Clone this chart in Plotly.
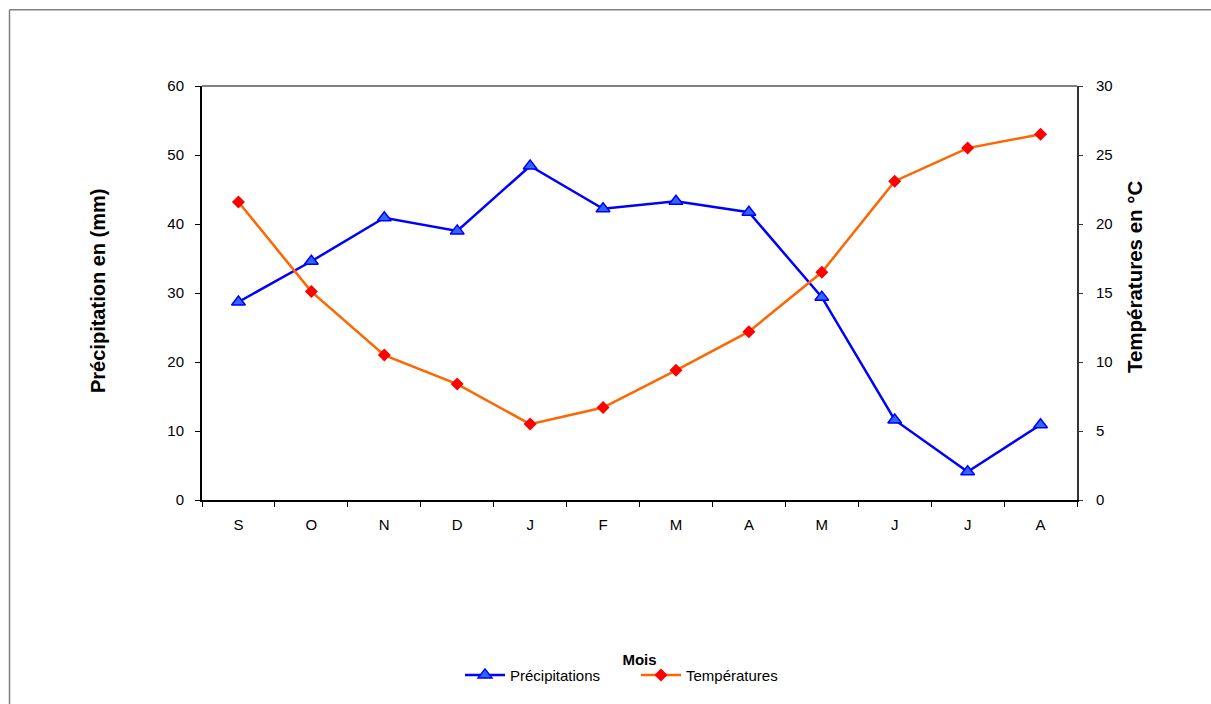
import plotly.graph_objects as go

# Monthly climate data (September to August)
mois = ["S", "O", "N", "D", "J", "F", "M", "A", "M", "J", "J", "A"]
precipitations = [28.7, 34.6, 40.9, 39.0, 48.4, 42.2, 43.3, 41.7, 29.4, 11.6, 4.1, 10.9]
temperatures = [21.6, 15.1, 10.5, 8.4, 5.5, 6.7, 9.4, 12.2, 16.5, 23.1, 25.5, 26.5]

positions = list(range(len(mois)))
FONT = "Liberation Sans, Arial, sans-serif"

W, H = 1211, 704
L, R, T, B = 202, 134, 86, 202
PW, PH = W - L - R, H - T - B


def px_x(x):
    return (x - L) / PW


def px_y(y):
    return (H - B - y) / PH


fig = go.Figure()

fig.add_trace(go.Scatter(
    x=positions, y=precipitations, name="Précipitations",
    mode="lines+markers",
    line=dict(color="#0000FF", width=2.5),
    marker=dict(symbol="triangle-up", size=12, color="#3366FF",
                line=dict(color="#0000FF", width=1.5)),
    yaxis="y",
))

fig.add_trace(go.Scatter(
    x=positions, y=temperatures, name="Températures",
    mode="lines+markers",
    line=dict(color="#FF6600", width=2.5),
    marker=dict(symbol="diamond", size=10, color="#FF0000",
                line=dict(width=0)),
    yaxis="y2",
))

fig.update_layout(
    width=W, height=H,
    margin=dict(l=L, r=R, t=T, b=B, pad=0),
    paper_bgcolor="white", plot_bgcolor="white",
    font=dict(family=FONT, size=15, color="black"),
    showlegend=True,
    legend=dict(
        orientation="h", x=px_x(636), xanchor="center",
        y=px_y(678), yanchor="middle",
        font=dict(family=FONT, size=15, color="black"),
        bgcolor="rgba(0,0,0,0)", itemwidth=40,
        entrywidth=121, entrywidthmode="pixels",
        tracegroupgap=0,
    ),
    xaxis=dict(
        range=[-0.5, len(mois) - 0.5],
        tickmode="array", tickvals=positions, ticktext=mois,
        ticks="", showgrid=False, zeroline=False,
        showline=True, linecolor="black", linewidth=2,
        ticklabelstandoff=10,
        tickfont=dict(family=FONT, size=15, color="black"),
        minor=dict(
            tickmode="array",
            tickvals=[p - 0.5 for p in positions] + [len(mois) - 0.5],
            ticks="outside", ticklen=5, tickcolor="black", tickwidth=1,
            showgrid=False,
        ),
        title=dict(text="<b>Mois</b>", standoff=122,
                   font=dict(family=FONT, size=15, color="black")),
        fixedrange=True,
    ),
    yaxis=dict(
        range=[0, 60], tickmode="linear", tick0=0, dtick=10,
        ticks="outside", ticklen=5, tickcolor="black", tickwidth=1,
        showgrid=False, zeroline=False,
        showline=True, linecolor="black", linewidth=2,
        ticklabelstandoff=8,
        tickfont=dict(family=FONT, size=15, color="black"),
    ),
    yaxis2=dict(
        range=[0, 30], tickmode="linear", tick0=0, dtick=5,
        overlaying="y", side="right", anchor="x",
        ticks="outside", ticklen=4, tickcolor="#333333", tickwidth=1,
        showgrid=False, zeroline=False,
        showline=True, linecolor="#333333", linewidth=2,
        ticklabelstandoff=10,
        tickfont=dict(family=FONT, size=15, color="black"),
    ),
    shapes=[
        # plot area top border
        dict(type="line", xref="paper", yref="paper", x0=0, x1=1, y0=1, y1=1,
             line=dict(color="#808080", width=2)),
        # outer chart frame (top and left edges)
        dict(type="line", xref="paper", yref="paper",
             x0=px_x(9.5), x1=px_x(W + 5), y0=px_y(9.5), y1=px_y(9.5),
             line=dict(color="#808080", width=1.5)),
        dict(type="line", xref="paper", yref="paper",
             x0=px_x(9.5), x1=px_x(9.5), y0=px_y(9.5), y1=px_y(H + 5),
             line=dict(color="#808080", width=1.5)),
    ],
    annotations=[
        dict(text="<b>Précipitation en (mm)</b>", textangle=-90,
             xref="paper", yref="paper", x=px_x(98), y=px_y(292),
             xanchor="center", yanchor="middle", showarrow=False,
             font=dict(family=FONT, size=20, color="black")),
        dict(text="<b>Températures en °C</b>", textangle=-90,
             xref="paper", yref="paper", x=px_x(1134), y=px_y(278),
             xanchor="center", yanchor="middle", showarrow=False,
             font=dict(family=FONT, size=20.5, color="black")),
    ],
)

fig.write_html("out.html")
